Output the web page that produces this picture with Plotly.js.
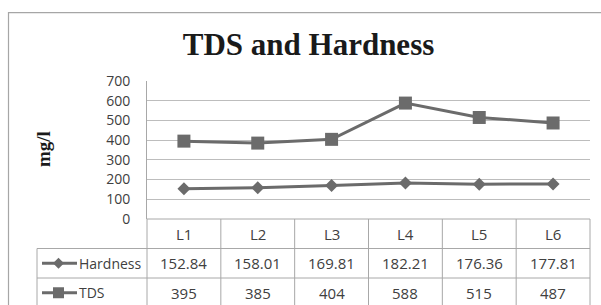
<!DOCTYPE html>
<html>
<head>
<meta charset="utf-8">
<script src="https://cdn.plot.ly/plotly-3.0.1.min.js"></script>
<style>html,body{margin:0;padding:0;background:#fff;}#chart{width:601px;height:305px;}</style>
</head>
<body>
<div id="chart"></div>
<script>
const categories = ['L1', 'L2', 'L3', 'L4', 'L5', 'L6'];
const seriesNames = ['Hardness', 'TDS'];
const hardness = [152.84, 158.01, 169.81, 182.21, 176.36, 177.81];
const tds = [395, 385, 404, 588, 515, 487];
const yTickVals = [0, 100, 200, 300, 400, 500, 600, 700];

const W = 601, H = 305;
const M = {l: 147, r: 11, t: 81, b: 86};
const PW = W - M.l - M.r, PH = H - M.t - M.b;
const px = v => (v - M.l) / PW;           // pixel x -> paper x
const py = v => (H - M.b - v) / PH;        // pixel y -> paper y

const lineColor = '#6b6b6b';
const gridColor = '#bdbdbd';
const tableColor = '#a8a8a8';
const textColor = '#404040';
const numFont = {family: 'Open Sans, sans-serif', size: 15, color: textColor};

const traces = [
  {x: categories, y: hardness, name: seriesNames[0], type: 'scatter', mode: 'lines+markers',
   line: {color: lineColor, width: 3}, marker: {symbol: 'diamond', size: 10, color: lineColor}, cliponaxis: false},
  {x: categories, y: tds, name: seriesNames[1], type: 'scatter', mode: 'lines+markers',
   line: {color: lineColor, width: 3}, marker: {symbol: 'square', size: 13, color: lineColor}, cliponaxis: false}
];

// table geometry (pixels)
const rowTop = H - M.b;           // 219
const rowH = 29.5;
const legendLeft = 37;
const shapes = [];
const L = (x0, y0, x1, y1, c, w) => shapes.push({type: 'line', xref: 'paper', yref: 'paper',
  x0: px(x0), y0: py(y0), x1: px(x1), y1: py(y1), line: {color: c || tableColor, width: w || 1}});

// outer chart border
shapes.push({type: 'rect', xref: 'paper', yref: 'paper', x0: px(8.5), y0: py(12.7), x1: px(700), y1: py(500),
  line: {color: '#a6a6a6', width: 1.2}, fillcolor: 'rgba(0,0,0,0)'});

// horizontal table lines
L(M.l, rowTop, M.l + PW, rowTop);
L(legendLeft, rowTop + rowH, M.l + PW, rowTop + rowH);
L(legendLeft, rowTop + 2 * rowH, M.l + PW, rowTop + 2 * rowH);
// vertical lines
for (let k = 0; k <= categories.length; k++) {
  const xx = M.l + PW * k / categories.length;
  L(xx, rowTop, xx, H + 20);
}
L(legendLeft, rowTop + rowH, legendLeft, H + 20);

// legend keys inside table
const keyX0 = 42, keyX1 = 77, keyMid = 58.5;
const keyY = [rowTop + rowH * 1.5, rowTop + rowH * 2.5];
L(keyX0, keyY[0], keyX1, keyY[0], lineColor, 3);
L(keyX0, keyY[1], keyX1, keyY[1], lineColor, 3);
const d = 5.5;
shapes.push({type: 'path', xref: 'paper', yref: 'paper',
  path: `M ${px(keyMid - d)} ${py(keyY[0])} L ${px(keyMid)} ${py(keyY[0] - d)} L ${px(keyMid + d)} ${py(keyY[0])} L ${px(keyMid)} ${py(keyY[0] + d)} Z`,
  fillcolor: lineColor, line: {width: 0}});
const s = 5.5;
shapes.push({type: 'rect', xref: 'paper', yref: 'paper',
  x0: px(keyMid - s), x1: px(keyMid + s), y0: py(keyY[1] - s), y1: py(keyY[1] + s),
  fillcolor: lineColor, line: {width: 0}});

const annotations = [];
// y axis title
annotations.push({text: '<b>mg/l</b>', xref: 'paper', yref: 'paper', x: px(43), y: py(149),
  xanchor: 'center', yanchor: 'middle',
  textangle: -90, showarrow: false, font: {family: 'Liberation Serif, serif', size: 19, color: '#1a1a1a'}});
// header row
categories.forEach(c => annotations.push({text: c, xref: 'x', yref: 'paper', x: c, y: py(rowTop + rowH * 0.5),
  xanchor: 'center', yanchor: 'middle', showarrow: false, font: numFont}));
// data rows
const rows = [hardness.map(v => v.toFixed(2)), tds.map(v => String(v))];
rows.forEach((r, i) => {
  r.forEach((t, j) => annotations.push({text: t, xref: 'x', yref: 'paper', x: categories[j],
    y: py(keyY[i]), xanchor: 'center', yanchor: 'middle', showarrow: false, font: numFont}));
  annotations.push({text: seriesNames[i], xref: 'paper', yref: 'paper', x: px(76.5), y: py(keyY[i]),
    xanchor: 'left', yanchor: 'middle', showarrow: false, font: {family: 'Open Sans, sans-serif', size: 14, color: textColor}});
});

const layout = {
  width: W, height: H, margin: M, showlegend: false,
  paper_bgcolor: '#fff', plot_bgcolor: '#fff',
  title: {text: '<b>TDS and Hardness</b>', xref: 'container', yref: 'container', x: 308.5 / W, xanchor: 'center',
    y: 1 - 44 / H, yanchor: 'middle', font: {family: 'Liberation Serif, serif', size: 31, color: '#1a1a1a'}},
  xaxis: {type: 'category', range: [-0.5, 5.5], showgrid: false, showticklabels: false, zeroline: false,
    showline: false, ticks: '', fixedrange: true},
  yaxis: {range: [0, 700], tickvals: yTickVals, showgrid: true, gridcolor: gridColor, gridwidth: 1,
    zeroline: false, showline: true, linecolor: tableColor, linewidth: 1,
    ticks: 'outside', ticklen: 13, tickcolor: 'rgba(0,0,0,0)',
    tickfont: {family: 'Open Sans, sans-serif', size: 14, color: textColor}, fixedrange: true},
  shapes: shapes, annotations: annotations
};

Plotly.newPlot('chart', traces, layout, {staticPlot: true, displayModeBar: false});
</script>
</body>
</html>
